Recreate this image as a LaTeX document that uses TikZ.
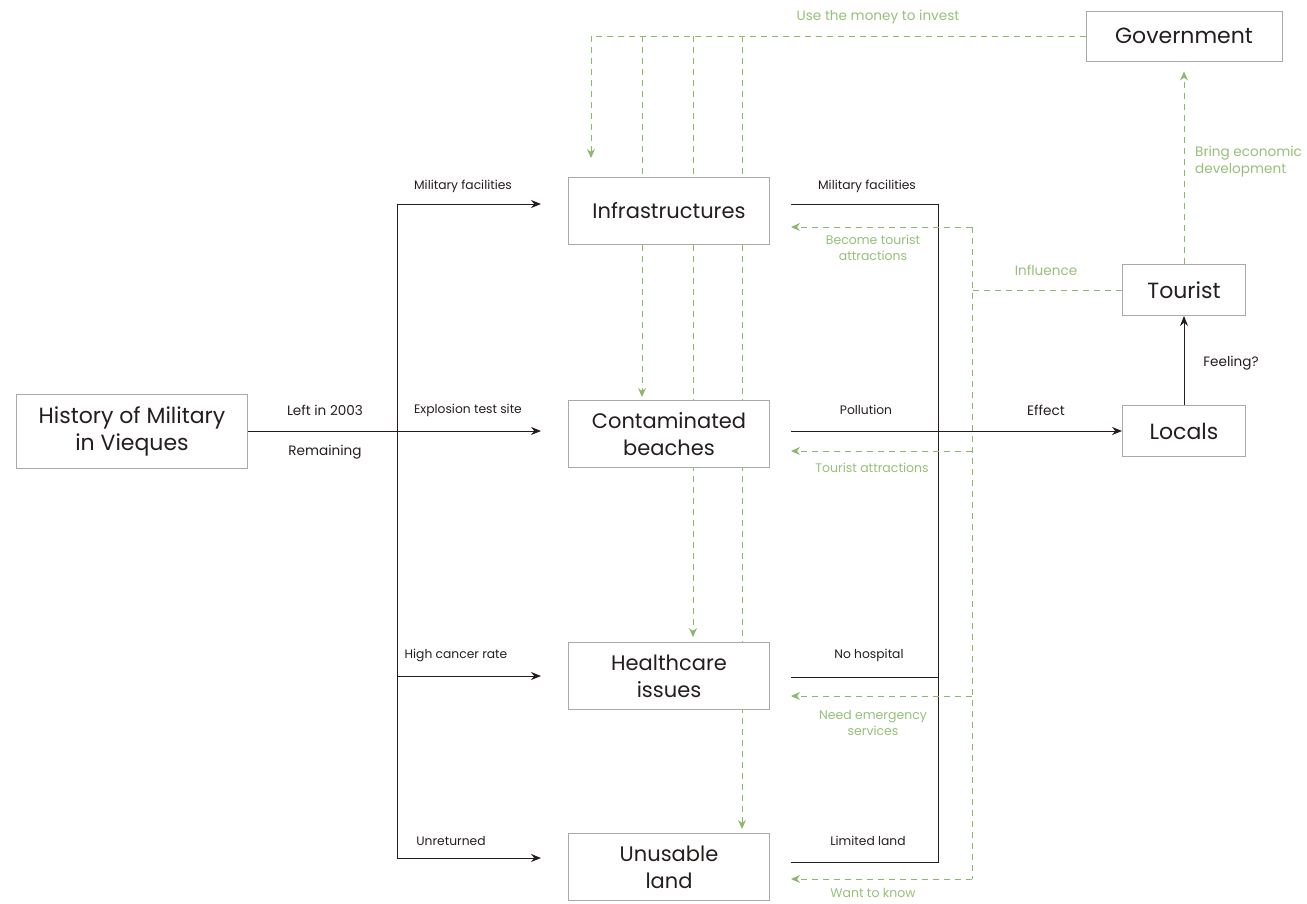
\documentclass[tikz,border=0pt]{standalone}
\usepackage{fontspec}
\setmainfont{Poppins}
\usepackage{tikz}
\usetikzlibrary{arrows.meta, positioning, backgrounds}
\definecolor{vqInk}{RGB}{38, 30, 30}
\definecolor{vqFrame}{RGB}{170, 170, 170}
\definecolor{vqGreen}{RGB}{140, 184, 110}
\definecolor{vqLeaf}{RGB}{150, 192, 122}

\begin{document}
\begin{tikzpicture}[x=1pt, y=-1pt,
  box/.style={rectangle, draw=vqFrame, fill=white, line width=0.9pt,
              minimum width=201pt, minimum height=67pt, inner sep=2pt,
              align=center, text=vqInk, font=\fontsize{21}{27}\selectfont},
  sbox/.style={box, minimum width=123pt, minimum height=51pt,
               font=\fontsize{22}{27}\selectfont},
  lbl/.style={align=center, text=vqInk, inner sep=1pt,
              font=\fontsize{12.3}{15}\selectfont},
  biglbl/.style={lbl, font=\fontsize{13.6}{16}\selectfont},
  glbl/.style={lbl, text=vqLeaf, font=\fontsize{12.5}{16}\selectfont},
  bigglbl/.style={glbl, font=\fontsize{13.6}{17}\selectfont},
  blk/.style={draw=vqInk, line width=1pt},
  arr/.style={blk, -{Stealth[length=10pt, width=8pt]}},
  dsh/.style={draw=vqGreen, line width=1pt, dash pattern=on 6pt off 5pt},
  darr/.style={dsh, -{Stealth[length=9pt, width=8pt]}},
]
  \useasboundingbox (0,0) rectangle (1307,903);

  % Boxes
  \node[box, minimum width=231pt, minimum height=74pt,
        font=\fontsize{22}{27}\selectfont] (hist) at (132,431) {History of Military\\in Vieques};
  \node[box] (infra) at (669,211) {Infrastructures};
  \node[box] (beach) at (669,434) {Contaminated\\beaches};
  \node[box] (health) at (669,676) {Healthcare\\issues};
  \node[box] (land) at (669,867) {Unusable\\land};
  \node[sbox, minimum width=196pt, minimum height=50pt] (gov) at (1184,36) {Government};
  \node[sbox] (tour) at (1184,290) {Tourist};
  \node[sbox] (loc) at (1184,431) {Locals};

  % Ends of the connectors
  \coordinate (sTop) at (397,204);
  \coordinate (sBot) at (397,858);
  \coordinate (infraIn) at (541,204);
  \coordinate (beachIn) at (541,431);
  \coordinate (healthIn) at (541,676);
  \coordinate (landIn) at (541,858);
  \coordinate (rTop) at (938,204);
  \coordinate (rBot) at (938,862);
  \coordinate (infraOut) at (791,204);
  \coordinate (beachOut) at (791,431);
  \coordinate (healthOut) at (791,677);
  \coordinate (landOut) at (791,862);
  \coordinate (gTop) at (972,227);
  \coordinate (gBot) at (972,879);
  \coordinate (infraBack) at (791,227);
  \coordinate (beachBack) at (791,451);
  \coordinate (healthBack) at (791,696);
  \coordinate (landBack) at (791,879);
  \coordinate (infraDrop) at (591,158);
  \coordinate (beachDrop) at (642,397);
  \coordinate (healthDrop) at (693,637);
  \coordinate (landDrop) at (742,829);

  \begin{scope}[on background layer]
    % Government money, down into every box
    \draw[darr] (gov.west) -| (infraDrop);
    \draw[darr] (beachDrop |- gov.west) -- (beachDrop);
    \draw[darr] (healthDrop |- gov.west) -- (healthDrop);
    \draw[darr] (landDrop |- gov.west) -- (landDrop);
  \end{scope}

  % History to the four boxes
  \draw[arr] (hist.east) -- (beachIn);
  \draw[blk] (sTop) -- (sBot);
  \draw[arr] (sTop) -- (infraIn);
  \draw[arr] (healthIn -| sTop) -- (healthIn);
  \draw[arr] (sBot) -- (landIn);

  % The four boxes to the locals
  \draw[blk] (infraOut) -- (rTop) -- (rBot) -- (landOut);
  \draw[blk] (healthOut) -- (healthOut -| rTop);
  \draw[arr] (beachOut) -- (loc.west);
  \draw[arr] (loc.north) -- (tour.south);

  % Tourist influence
  \draw[dsh] (tour.west) -- (tour.west -| gTop);
  \draw[dsh] (gTop) -- (gBot);
  \draw[darr] (gTop) -- (infraBack);
  \draw[darr] (beachBack -| gTop) -- (beachBack);
  \draw[darr] (healthBack -| gTop) -- (healthBack);
  \draw[darr] (gBot) -- (landBack);
  \draw[darr, shorten >=10pt] (tour.north) -- (gov.south);

  % Labels
  \node[biglbl] (lLeft) at (325,410) {Left in 2003};
  \node[biglbl] (lRemain) at (325,452) {Remaining};
  \node[lbl] (lMil) at (463,186) {Military facilities};
  \node[lbl] (lExpl) at (468,410) {Explosion test site};
  \node[lbl] (lCancer) at (456,655) {High cancer rate};
  \node[lbl] (lUnret) at (451,841) {Unreturned};
  \node[lbl] (rMil) at (867,186) {Military facilities};
  \node[lbl] (rPoll) at (866,410) {Pollution};
  \node[lbl] (rHosp) at (869,655) {No hospital};
  \node[lbl] (rLand) at (868,841) {Limited land};
  \node[biglbl] (lEffect) at (1046,410) {Effect};
  \node[biglbl] (lFeel) at (1231,363) {Feeling?};
  \node[bigglbl] (gMoney) at (878,17) {Use the money to invest};
  \node[glbl] (gBecome) at (873,248) {Become tourist\\attractions};
  \node[bigglbl] (gInfl) at (1046,270) {Influence};
  \node[bigglbl, align=left, anchor=west] (gBring) at (1194,162) {Bring economic\\development};
  \node[glbl] (gAttr) at (872,468) {Tourist attractions};
  \node[glbl] (gNeed) at (873,723) {Need emergency\\services};
  \node[glbl] (gKnow) at (873,893) {Want to know};
\end{tikzpicture}
\end{document}
